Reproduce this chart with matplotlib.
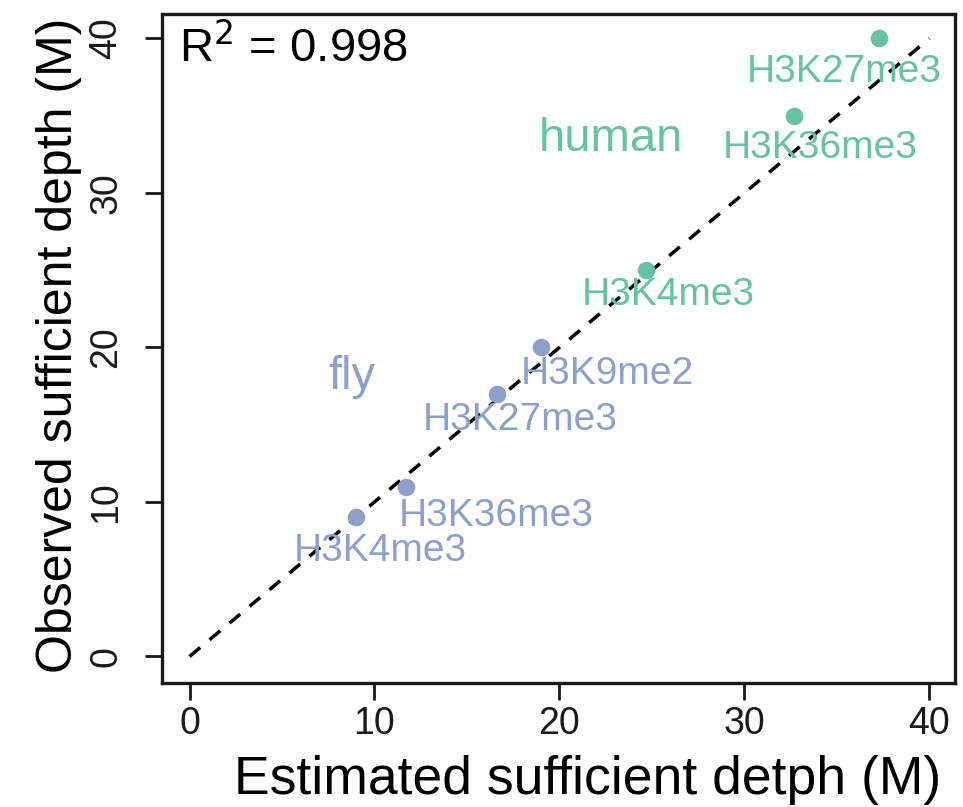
import matplotlib
matplotlib.use("Agg")
import matplotlib.pyplot as plt

plt.rcParams['font.family'] = ['Liberation Sans', 'DejaVu Sans']

# data (millions of reads)
human_marks = ["H3K27me3", "H3K36me3", "H3K4me3"]
human_est = [37.3, 32.7, 24.7]
human_obs = [40, 35, 25]

fly_marks = ["H3K9me2", "H3K27me3", "H3K36me3", "H3K4me3"]
fly_est = [19.0, 16.6, 11.7, 9.0]
fly_obs = [20, 17, 11, 9]

ticks = [0, 10, 20, 30, 40]
r2_text = "R$^2$ = 0.998"

green = "#66c2a5"
blue = "#8da0cb"

# label offsets (data units) so text sits like the original
human_off = [(-1.9, -2.2), (1.4, -2.1), (1.2, -1.6)]
fly_off = [(3.6, -1.75), (1.3, -1.7), (4.9, -1.9), (1.3, -2.2)]


def main():
    fig = plt.figure(figsize=(9.63, 8.07), dpi=100)
    ax = fig.add_axes([0.168, 0.154, 0.824, 0.829])

    ax.plot([0, 40], [0, 40], linestyle=(0, (4, 3.5)), color="black", lw=2.5, zorder=1)

    ax.scatter(human_est, human_obs, s=160, color=green, zorder=3, linewidths=0)
    ax.scatter(fly_est, fly_obs, s=160, color=blue, zorder=3, linewidths=0)

    for name, x, y, (dx, dy) in zip(human_marks, human_est, human_obs, human_off):
        ax.text(x + dx, y + dy, name, color=green, fontsize=28, ha="center", va="center", zorder=2)
    for name, x, y, (dx, dy) in zip(fly_marks, fly_est, fly_obs, fly_off):
        ax.text(x + dx, y + dy, name, color=blue, fontsize=28, ha="center", va="center", zorder=2)

    ax.text(22.8, 33.5, "human", color=green, fontsize=34, ha="center", va="center")
    ax.text(8.8, 18.1, "fly", color=blue, fontsize=34, ha="center", va="center")
    ax.text(-0.55, 39.4, r2_text, color="black", fontsize=34, ha="left", va="center")

    ax.set_xlim(-1.5, 41.4)
    ax.set_ylim(-1.7, 41.6)
    ax.set_xticks(ticks)
    ax.set_yticks(ticks)
    ax.set_yticklabels([str(t) for t in ticks], rotation=90, va="center")
    ax.tick_params(axis="both", direction="out", length=12, width=2, labelsize=27, colors="#1a1a1a")
    ax.tick_params(axis="x", pad=5)
    ax.tick_params(axis="y", pad=15)

    for sp in ax.spines.values():
        sp.set_linewidth(2.4)
        sp.set_color("#1a1a1a")

    ax.set_xlabel("Estimated sufficient detph (M)", fontsize=38.5)
    ax.set_ylabel("Observed sufficient depth (M)", fontsize=36)
    ax.xaxis.set_label_coords(0.537, -0.108)
    ax.yaxis.set_label_coords(-0.100, 0.505)

    fig.savefig("out.png", dpi=100)


if __name__ == "__main__":
    main()
